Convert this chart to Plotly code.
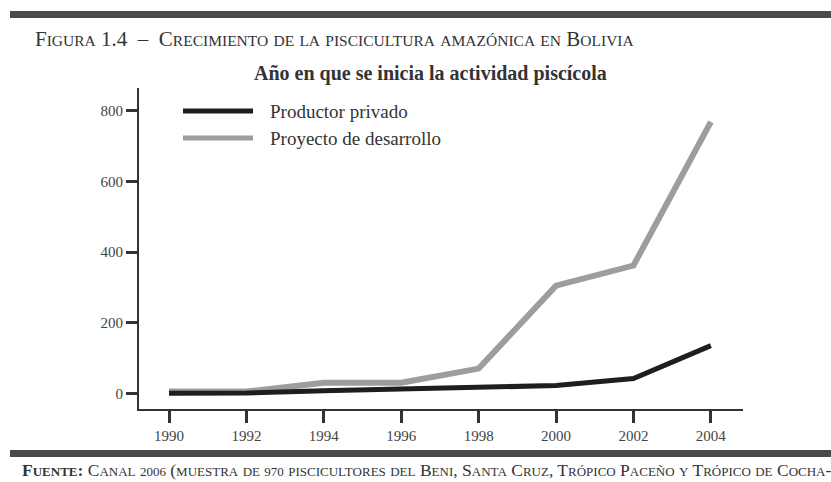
import plotly.graph_objects as go

# ---- data ----
years = [1990, 1992, 1994, 1996, 1998, 2000, 2002, 2004]
productor_privado = [0, 1, 7, 11, 15, 22, 42, 135]
proyecto_desarrollo = [5, 5, 30, 30, 70, 305, 362, 769]
series_names = ["Productor privado", "Proyecto de desarrollo"]
y_ticks = [0, 200, 400, 600, 800]

W, H = 831, 482
L, R, T, B = 139, 743, 88, 409
FONT = "Liberation Serif"
TXT = "#333333"


def px(x):
    return (x - L) / (R - L)


def py(y):
    return (B - y) / (B - T)


def small_caps(s, big, small, keep_digits_big=True):
    out = []
    for ch in s:
        if ch.islower() or (ch.isdigit() and not keep_digits_big):
            out.append("<span style='font-size:%spx'>%s</span>" % (small, ch.upper()))
        else:
            out.append(ch)
    return "".join(out)


fig = go.Figure()
fig.add_trace(go.Scatter(x=years, y=proyecto_desarrollo, mode="lines",
                         name=series_names[1], line=dict(color="#9d9d9d", width=6),
                         showlegend=False))
fig.add_trace(go.Scatter(x=years, y=productor_privado, mode="lines",
                         name=series_names[0], line=dict(color="#1e1e1e", width=5),
                         showlegend=False))

shapes = [
    # top and bottom rules
    dict(type="rect", xref="paper", yref="paper", x0=px(10), x1=px(840),
         y0=py(11), y1=py(18), fillcolor="#4a4a4a", line=dict(width=0)),
    dict(type="rect", xref="paper", yref="paper", x0=px(10), x1=px(840),
         y0=py(450), y1=py(457), fillcolor="#4a4a4a", line=dict(width=0)),
    # legend swatches
    dict(type="line", xref="paper", yref="paper", x0=px(183), x1=px(253),
         y0=py(111), y1=py(111), line=dict(color="#1e1e1e", width=5)),
    dict(type="line", xref="paper", yref="paper", x0=px(183), x1=px(253),
         y0=py(138), y1=py(138), line=dict(color="#9d9d9d", width=5)),
]

title_txt = small_caps("Figura 1.4  –  Crecimiento de la piscicultura amazónica en Bolivia", 21, 15.5)
footer_txt = ("<b>" + small_caps("Fuente:", 17.5, 13) + "</b> " +
              small_caps("Canal 2006 (muestra de 970 piscicultores del Beni, Santa Cruz, "
                         "Trópico Paceño y Trópico de Cocha-", 17.5, 13, keep_digits_big=False))

annotations = [
    dict(text=title_txt, xref="paper", yref="paper", x=px(33), y=py(39),
         xanchor="left", yanchor="middle", showarrow=False,
         font=dict(family=FONT, size=21, color=TXT)),
    dict(text="<b>Año en que se inicia la actividad piscícola</b>", xref="paper", yref="paper",
         x=px(430), y=py(73), xanchor="center", yanchor="middle", showarrow=False,
         font=dict(family=FONT, size=20, color="#333333")),
    dict(text=series_names[0], xref="paper", yref="paper", x=px(268), y=py(111),
         xanchor="left", yanchor="middle", showarrow=False,
         font=dict(family=FONT, size=19, color=TXT)),
    dict(text=series_names[1], xref="paper", yref="paper", x=px(268), y=py(138),
         xanchor="left", yanchor="middle", showarrow=False,
         font=dict(family=FONT, size=19, color=TXT)),
    dict(text=footer_txt, xref="paper", yref="paper", x=px(20), y=py(470),
         xanchor="left", yanchor="middle", showarrow=False,
         font=dict(family=FONT, size=17.5, color=TXT)),
]

fig.update_layout(
    width=W, height=H,
    margin=dict(l=L, r=W - R, t=T, b=H - B, pad=0),
    paper_bgcolor="white", plot_bgcolor="white",
    font=dict(family=FONT, color=TXT),
    shapes=shapes, annotations=annotations,
    showlegend=False,
    xaxis=dict(range=[1989.225, 2004.83], tickmode="array", tickvals=years,
               ticktext=[str(y) for y in years],
               showgrid=False, zeroline=False, showline=True, linecolor="#333",
               linewidth=2, ticks="outside", ticklen=12, tickwidth=3, tickcolor="#333",
               tickfont=dict(family=FONT, size=15, color="#444"), fixedrange=True),
    yaxis=dict(range=[-44.5, 865], tickmode="array", tickvals=y_ticks,
               ticktext=[str(v) for v in y_ticks],
               showgrid=False, zeroline=False, showline=True, linecolor="#333",
               linewidth=2, ticks="outside", ticklen=11, tickwidth=3, tickcolor="#333",
               tickfont=dict(family=FONT, size=15, color="#444"), fixedrange=True),
)

fig.write_html("out.html", config={"displayModeBar": False},
               post_script="document.body.style.margin='0';document.body.style.overflow='hidden';")
